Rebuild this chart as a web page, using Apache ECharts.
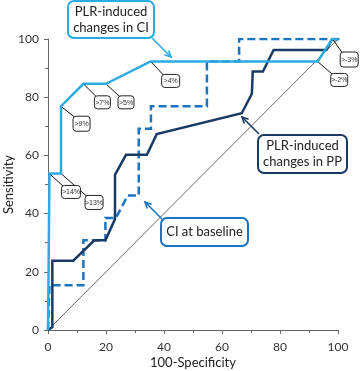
<!DOCTYPE html>
<html><head><meta charset="utf-8">
<script src="https://cdn.jsdelivr.net/npm/echarts@6/dist/echarts.min.js"></script>
<style>html,body{margin:0;padding:0;background:#fff}#c{width:360px;height:371px}</style>
</head><body><div id="c"></div>
<script>
// ---- data ----
var xTicks = [0, 20, 40, 60, 80, 100];
var yTicks = [0, 20, 40, 60, 80, 100];
var ciPLR = [[0,0],[0.5,0],[0.5,53.8],[4.5,53.8],[4.5,76.9],[12.2,84.6],[20,84.6],[35.4,92.3],[93,92.3],[98,100],[100,100]];
var ppPLR = [[0,0],[1.5,1],[1.5,23.8],[8.7,23.8],[16,30.8],[19.8,30.8],[23.1,38.1],[23.1,53.3],[26.9,60.2],[34.1,60.2],[37.5,67.3],[66.8,74.5],[70.3,81.2],[70.6,88.8],[74.1,88.8],[77.8,96.2],[96,96.2],[98,100],[100,100]];
var ciBase = [[0,0],[0.5,0],[0.5,15.4],[12.2,15.4],[12.2,30.8],[19.8,30.8],[19.8,38.5],[23.4,38.5],[27.5,46.2],[31.3,46.2],[31.3,69.2],[35.5,69.2],[35.5,76.9],[54.8,76.9],[54.8,92.3],[65.9,92.3],[65.9,100],[100.8,100]];
var diagonal = [[0,0],[100,100]];
var thresholdX = [4.5, 12.2, 20, 35.4, 0.5, 4.5, 98, 93];
var thresholdY = [76.9, 84.6, 84.6, 92.3, 53.8, 53.8, 100, 92.3];
var thresholdText = ['>9%', '>7%', '>5%', '>4%', '>14%', '>13%', '>-3%', '>-2%'];

// ---- layout / style (pixels) ----
var thresholdOffset = [[12,10],[11,12],[12,12],[11,13],[12,12],[24,22],[8,13],[13,12]];
var thresholdBox = [[17,15],[16,13],[16,13],[18,13],[19,13],[18,14],[18,15],[17,13]];
var C_LIGHT = '#2AABE2', C_NAVY = '#1A3A66', C_DASH = '#1A72C2';
var FONT = 'Lato, "Open Sans", sans-serif';

var chart = echarts.init(document.getElementById('c'));
var axisCommon = {
  type: 'value', min: 0, max: 100, interval: 20,
  axisLine: {show: true, lineStyle: {color: '#666', width: 1}},
  axisTick: {show: true, length: 4, lineStyle: {color: '#666'}},
  minorTick: {show: true, splitNumber: 2, length: 3, lineStyle: {color: '#666'}},
  splitLine: {show: false},
  axisLabel: {color: '#333', fontSize: 12, fontFamily: FONT},
  nameTextStyle: {color: '#222', fontSize: 13, fontFamily: FONT},
  nameLocation: 'middle',
  nameMoveOverlap: false
};
function lineSeries(data, color, width, dash, z) {
  return {type: 'line', data: data, symbol: 'none', silent: true, animation: false, z: z,
    lineStyle: {color: color, width: width, type: dash || 'solid', cap: 'butt', join: 'miter'}};
}
chart.setOption({
  animation: false,
  grid: {left: 48, right: 22, top: 39, bottom: 41, containLabel: false, outerBoundsMode: 'none'},
  xAxis: Object.assign({}, axisCommon, {name: '100-Specificity', nameGap: 26,
    axisLabel: Object.assign({}, axisCommon.axisLabel, {margin: 11, formatter: function(v){return xTicks.indexOf(v)>=0?String(v):'';}})}),
  yAxis: Object.assign({}, axisCommon, {name: 'Sensitivity', nameGap: 33,
    axisLabel: Object.assign({}, axisCommon.axisLabel, {margin: 9, formatter: function(v){return yTicks.indexOf(v)>=0?String(v):'';}})}),
  series: [
    lineSeries(diagonal, '#444', 0.8, 'solid', 1),
    lineSeries(ciBase, C_DASH, 2.5, [8, 4], 2),
    lineSeries(ppPLR, C_NAVY, 2.5, 'solid', 3),
    lineSeries(ciPLR, C_LIGHT, 2.5, 'solid', 4)
  ]
});

// ---- annotations ----
var g = [];
for (var i = 0; i < thresholdText.length; i++) {
  var p = chart.convertToPixel({gridIndex: 0}, [thresholdX[i], thresholdY[i]]);
  var bx = p[0] + thresholdOffset[i][0], by = p[1] + thresholdOffset[i][1];
  var w = thresholdBox[i][0], h = thresholdBox[i][1];
  g.push({type: 'line', z: 50, shape: {x1: p[0] + 1, y1: p[1] + 1, x2: bx + 3, y2: by + 2}, style: {stroke: '#111', lineWidth: 1}});
  g.push({type: 'rect', z: 51, shape: {x: bx, y: by, width: w, height: h, r: 3}, style: {fill: '#fff', stroke: '#222', lineWidth: 1}});
  g.push({type: 'text', z: 52, x: bx + w / 2, y: by + h / 2 + 0.5, style: {text: thresholdText[i], fill: '#333', font: '7px Arial, sans-serif', align: 'center', verticalAlign: 'middle'}});
}
function callout(box, lines, color, from, to) {
  g.push({type: 'rect', z: 60, shape: {x: box[0], y: box[1], width: box[2], height: box[3], r: 6}, style: {fill: '#fff', stroke: color, lineWidth: 2}});
  g.push({type: 'text', z: 61, x: box[0] + box[2] / 2, y: box[1] + box[3] / 2, style: {text: lines, fill: '#222', font: '13px ' + FONT, align: 'center', verticalAlign: 'middle', lineHeight: 16}});
  g.push({type: 'line', z: 60, shape: {x1: from[0], y1: from[1], x2: to[0], y2: to[1]}, style: {stroke: color, lineWidth: 1.6}});
  var ang = Math.atan2(to[1] - from[1], to[0] - from[0]), L = 7, A = 0.45;
  g.push({type: 'polyline', z: 60, shape: {points: [
    [to[0] - L * Math.cos(ang - A), to[1] - L * Math.sin(ang - A)], to,
    [to[0] - L * Math.cos(ang + A), to[1] - L * Math.sin(ang + A)]]}, style: {stroke: color, lineWidth: 1.6, fill: null}});
}
callout([68, 1, 86, 37], 'PLR-induced\nchanges in CI', C_LIGHT, [152, 38], [171, 57]);
callout([258, 135, 89, 38], 'PLR-induced\nchanges in PP', C_NAVY, [259, 134], [242, 117]);
callout([161, 218, 87, 28], 'CI at baseline', C_DASH, [162, 219], [145, 202]);
chart.setOption({graphic: g});
</script></body></html>
